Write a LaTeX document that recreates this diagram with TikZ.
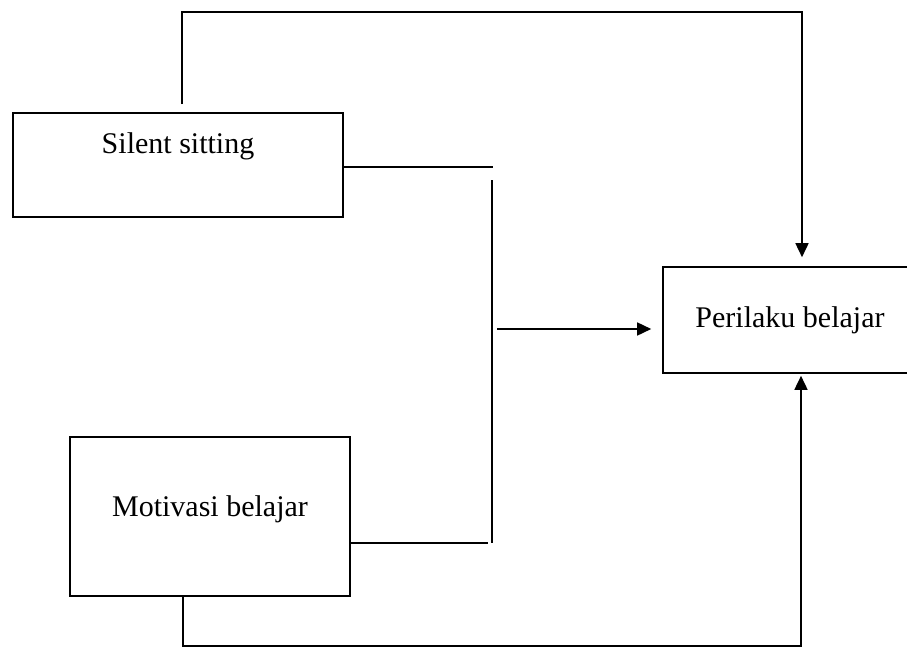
\documentclass[tikz,border=0pt]{standalone}
\usepackage{fontspec}
\setmainfont{Liberation Serif}
\usetikzlibrary{arrows.meta}

\tikzset{
	box/.style={draw, line width=1.6pt, inner sep=0pt, font=\fontsize{30pt}{36pt}\selectfont},
	arr/.style={-{Triangle[length=14pt,width=13pt]}},
}

\begin{document}
\begin{tikzpicture}[x=1pt, y=-1pt, line width=1.6pt]
	\clip (0,0) rectangle (907,648);
	\node [box, anchor=base, minimum width=330pt, text height=40pt, text depth=64pt] (sit) at (178,153) {Silent sitting};
	\node [box, anchor=base, minimum width=280pt, text height=79pt, text depth=80pt] (mot) at (210,516) {Motivasi belajar};
	\node [box, anchor=base, minimum width=254pt, text height=60pt, text depth=46pt] (per) at (790,327) {Perilaku belajar};
	\coordinate (topR) at (802,12);
	\coordinate (botR) at (801,646);
	\coordinate (j1) at (492,180);
	\coordinate (j2) at (492,543);
	\coordinate (a0) at (497,329);
	\draw [arr] ([xshift=4pt,yshift=8pt]sit.north) |- (topR) -- ([yshift=9pt]topR |- per.north);
	\draw [arr] ([xshift=-27pt]mot.south) |- (botR) -- ([yshift=-2pt]botR |- per.south);
	\draw ([yshift=-2pt]sit.east) -- ++(149,0);
	\draw (j1) -- (j2);
	\draw (mot.east |- j2) -- ([xshift=-4pt]j2);
	\draw [arr, shorten >=11pt] (a0) -- (a0 -| per.west);
\end{tikzpicture}
\end{document}
